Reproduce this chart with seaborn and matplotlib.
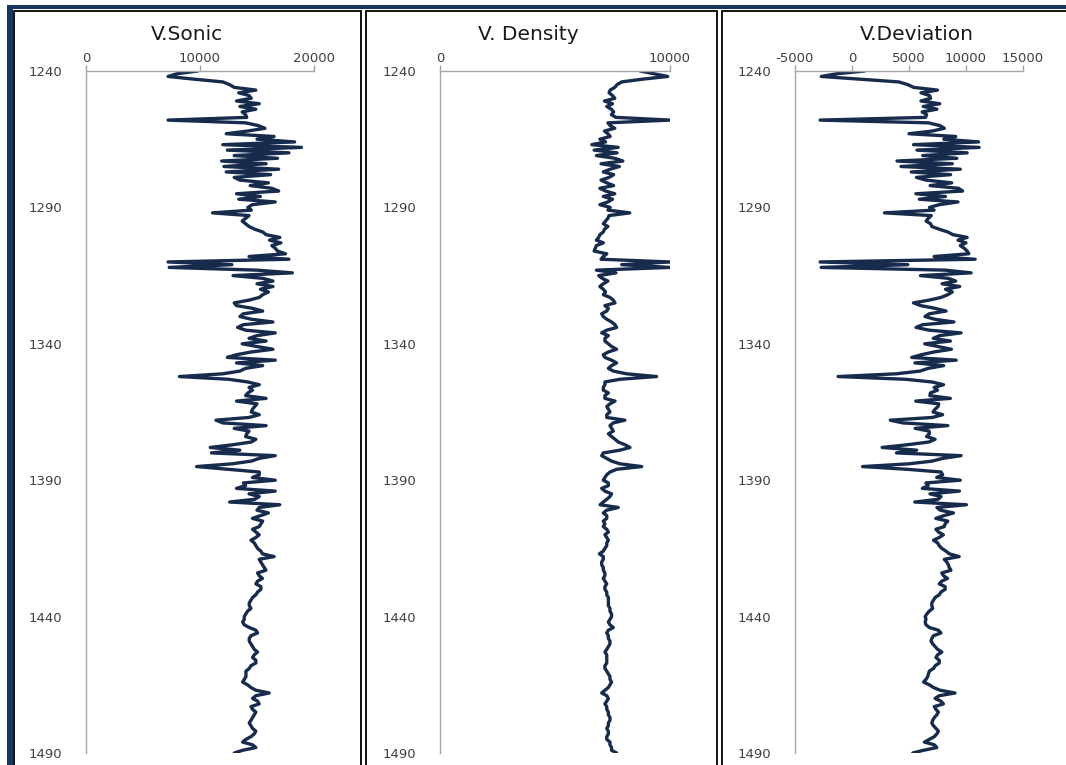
import numpy as np
import pandas as pd
import seaborn as sns
import matplotlib
matplotlib.use("Agg")
import matplotlib.pyplot as plt
from matplotlib.patches import Rectangle

# ---------------- data ----------------
depth = np.arange(1240, 1491)

sonic = [
    9800, 8000, 7200, 9500, 12000, 12600, 13000, 14900, 13400, 14300,
    14500, 13200, 15200, 13500, 14900, 13700, 14000, 14100, 7200, 14000,
    15100, 15700, 14200, 12300, 16500, 15000, 18300, 12000, 18900, 12400,
    17800, 13000, 16800, 11900, 15800, 12100, 16900, 12300, 16200, 13000,
    13500, 16000, 14400, 16300, 16900, 13200, 15300, 13400, 16600, 14600,
    14200, 14500, 11100, 14300, 14000, 13700, 14000, 14300, 14800, 15500,
    15800, 17000, 16100, 17100, 16300, 16600, 16800, 17500, 14300, 17800,
    7200, 12800, 7300, 15000, 18100, 12900, 15500, 16400, 15000, 16400,
    15300, 16000, 15500, 15200, 14300, 13000, 13200, 14600, 15500, 13800,
    13500, 14500, 16400, 13800, 13300, 14000, 16600, 15000, 14300, 15800,
    13700, 15000, 16400, 14500, 13200, 12400, 16600, 13200, 15500, 14000,
    13500, 12000, 8200, 12500, 14200, 15200, 14300, 14600, 14200, 14000,
    15800, 13200, 15000, 14800, 14600, 14500, 15200, 14300, 11400, 12000,
    15800, 13000, 14300, 14100, 14000, 14900, 14500, 12900, 10900, 13500,
    11000, 16600, 15200, 14500, 12800, 9700, 12500, 15200, 15200, 14600,
    16600, 13800, 14000, 13200, 16600, 14300, 15200, 14800, 12600, 17000,
    15200, 15000, 16000, 15300, 14600, 15500,
    15340, 15190, 14610, 14900, 15190, 14900, 14470, 14760, 14900, 15050,
    15340, 15480, 16500, 15190, 15340, 15480, 15630, 15780, 15050, 15190,
    15480, 15050, 14900, 15340, 15340, 15050, 14900, 14610, 14470, 14320,
    14320, 14470, 14170, 14030, 13880, 13880, 13740, 13880, 14320, 14900,
    15050, 14470, 14320, 14320, 14470, 14610, 14760, 15050, 14760, 14610,
    14900, 14900, 14470, 14320, 14030, 14030, 14030, 13880, 13740, 14170,
    14470, 14900, 16070, 14900, 14610, 15050, 15190, 14470, 14610, 14900,
    14760, 14610, 14470, 14320, 14470, 14610, 14900, 14760, 14470, 14030,
    13740, 14610, 14900, 13740, 13010,
]

density = [
    8700, 9300, 9900, 8800, 7900, 7700, 7600, 7400, 7350, 7500,
    7600, 7150, 7500, 7250, 7450, 7550, 7450, 7650, 10000, 7300,
    7400, 7600, 7150, 7300, 7400, 6950, 7200, 6600, 7750, 6700,
    7700, 6800, 7600, 7950, 7000, 7800, 7400, 7100, 7550, 7350,
    7000, 7250, 7550, 6950, 7200, 7600, 7100, 7500, 7300, 6950,
    7400, 7300, 8250, 7350, 7300, 7200, 7100, 7300, 7150, 7100,
    6950, 6900, 6800, 7100, 6800, 6750, 6700, 7250, 7100, 7000,
    10000, 7900, 10000, 6800, 7650, 6900, 7050, 7300, 7100, 6950,
    7100, 7200, 7100,
    7390, 7535, 7610, 7170, 7320, 7250, 7030, 7100, 7250, 7460,
    7610, 7680, 7250, 7030, 7320, 7170, 7170, 7320, 7460, 7680,
    7320, 7100, 7170, 7460, 7680, 7460, 7320, 7535, 8115, 9420,
    7825, 7170, 7170, 7100, 7100, 7320, 7170, 7170, 7610, 7390,
    7250, 7320, 7390, 7250, 7250, 8040, 7535, 7390, 7460, 7535,
    7320, 7460, 7610, 7750, 8040, 8260, 7825, 7100, 7030, 7250,
    7460, 7825, 8770, 7680, 7390, 7250, 7170, 7100, 7320, 7320,
    7030, 7170, 7460, 7390, 7250, 7100, 6960, 7750, 7250, 7100,
    7250, 7250, 7100,
    7170, 7100, 7250, 7320, 7170, 7250, 7320, 7250, 7250, 7170,
    7100, 6930, 7100, 7100, 7030, 7030, 7100, 7100, 7170, 7170,
    7100, 7170, 7250, 7170, 7170, 7250, 7250, 7320, 7320, 7320,
    7320, 7390, 7390, 7460, 7460, 7390, 7320, 7390, 7535, 7320,
    7250, 7320, 7320, 7390, 7390, 7320, 7250, 7170, 7250, 7250,
    7250, 7250, 7170, 7170, 7250, 7320, 7390, 7390, 7460, 7390,
    7320, 7170, 7030, 7250, 7320, 7250, 7170, 7250, 7250, 7320,
    7320, 7390, 7390, 7320, 7320, 7250, 7320, 7320, 7250, 7250,
    7390, 7390, 7460, 7460, 7680,
]

# V.Deviation is the sonic velocity minus the density velocity
deviation = [s - d for s, d in zip(sonic, density)]

titles = ["V.Sonic", "V. Density", "V.Deviation"]
x_limits = [(0, 20000), (0, 10000), (-5000, 15000)]
x_ticks = [[0, 10000, 20000], [0, 10000], [-5000, 0, 5000, 10000, 15000]]
y_ticks = [1240, 1290, 1340, 1390, 1440, 1490]

df = pd.DataFrame({"depth": depth, "V.Sonic": sonic,
                   "V. Density": density, "V.Deviation": deviation})

# ---------------- figure ----------------
sns.set_style("white")
plt.rcParams["font.family"] = ["DejaVu Sans"]
plt.rcParams["axes.unicode_minus"] = False

W, H = 1066, 765
fig = plt.figure(figsize=(W / 100, H / 100), dpi=100)
fig.patch.set_facecolor("white")

LINE = "#172b4d"
NAVY = "#17375e"
AX_GREY = "#a6a6a6"
TXT = "#404040"

# axes boxes in pixel coordinates (left, right)
ax_px = [(86, 314), (440, 670), (795, 1023)]
top_px, bot_px = 71, 753
title_x = [187, 528, 917]

def fx(px):
    return px / W

def fy(py):
    return 1 - py / H

for i, col in enumerate(titles):
    l, r = ax_px[i]
    ax = fig.add_axes([fx(l), fy(bot_px), (r - l) / W, (bot_px - top_px) / H])
    sns.lineplot(data=df, x=col, y="depth", ax=ax, orient="y", sort=False,
                 estimator=None, color=LINE, linewidth=2.4)
    ax.set_xlim(*x_limits[i])
    ax.set_ylim(1490, 1240)
    ax.set_xticks(x_ticks[i])
    ax.set_yticks(y_ticks)
    ax.xaxis.tick_top()
    ax.set_xlabel("")
    ax.set_ylabel("")
    for s in ["right", "bottom"]:
        ax.spines[s].set_visible(False)
    for s in ["top", "left"]:
        ax.spines[s].set_color(AX_GREY)
        ax.spines[s].set_linewidth(1.0)
    ax.tick_params(axis="x", direction="out", length=4, width=1.0,
                   color=AX_GREY, pad=0, labelsize=9.5, labelcolor=TXT)
    ax.tick_params(axis="y", direction="out", length=5, width=1.0,
                   color=AX_GREY, pad=12, labelsize=9.5, labelcolor=TXT)
    ax.patch.set_alpha(0)
    fig.text(fx(title_x[i]), fy(34), col, ha="center", va="center",
             fontsize=14.5, color="#1a1a1a")

# navy outer frame (left and top bands)
fig.add_artist(Rectangle((fx(7), 0), 6 / W, fy(5), transform=fig.transFigure,
                         facecolor=NAVY, edgecolor="none", zorder=5))
fig.add_artist(Rectangle((fx(7), fy(9)), 1 - fx(7), 4 / H,
                         transform=fig.transFigure, facecolor=NAVY,
                         edgecolor="none", zorder=5))

# black borders of the three chart panels
panels = [(14, 361), (366, 717), (722, 1075)]
for l, r in panels:
    fig.add_artist(Rectangle((fx(l), fy(775)), (r - l) / W, (775 - 11) / H,
                             transform=fig.transFigure, facecolor="none",
                             edgecolor="black", linewidth=1.3, zorder=6))

fig.savefig("out.png", dpi=100, facecolor="white")
